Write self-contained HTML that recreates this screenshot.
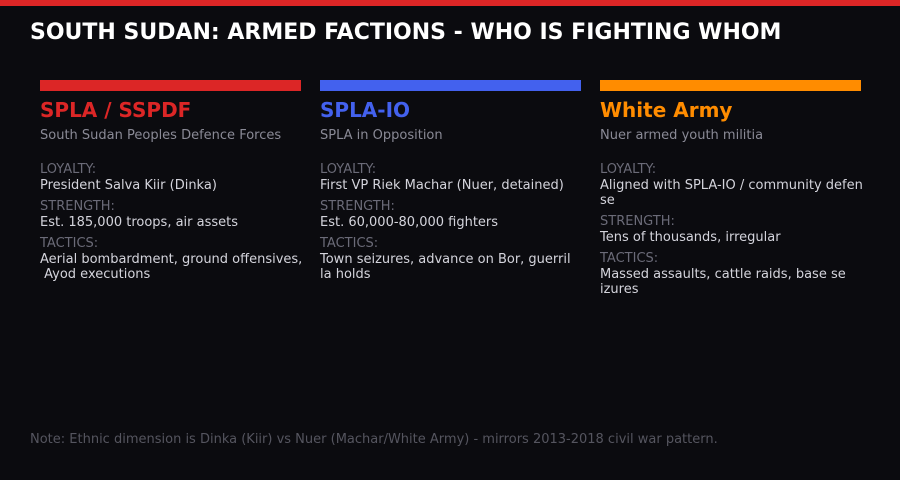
<!DOCTYPE html>
<html><head><style>html,body{margin:0;background:#0b0b0f;overflow:hidden;width:900px;height:480px}svg{display:block}</style></head><body>
<svg width="900" height="480" xmlns="http://www.w3.org/2000/svg" font-family="DejaVu Sans, sans-serif">
<rect width="900" height="480" fill="#0b0b0f"/>
<rect width="900" height="6" fill="#dc2626"/>
<text x="30" y="39" font-size="22" font-weight="bold" fill="#fff">SOUTH SUDAN: ARMED FACTIONS - WHO IS FIGHTING WHOM</text>

<rect x="40" y="80" width="261" height="11" fill="#dc2626"/>
<text x="40" y="117" font-size="20" font-weight="bold" fill="#dc2626">SPLA / SSPDF</text>
<text x="40" y="139" font-size="13" fill="#8a8a96">South Sudan Peoples Defence Forces</text>
<g font-size="13">
<text x="40" y="173" fill="#6b6b78">LOYALTY:</text>
<text x="40" y="189" fill="#d4d4dc">President Salva Kiir (Dinka)</text>
<text x="40" y="210" fill="#6b6b78">STRENGTH:</text>
<text x="40" y="226" fill="#d4d4dc">Est. 185,000 troops, air assets</text>
<text x="40" y="247" fill="#6b6b78">TACTICS:</text>
<text x="40" y="263" fill="#d4d4dc">Aerial bombardment, ground offensives,</text>
<text x="40" y="278" fill="#d4d4dc" xml:space="preserve"> Ayod executions</text>
</g>

<rect x="320" y="80" width="261" height="11" fill="#4361ee"/>
<text x="320" y="117" font-size="20" font-weight="bold" fill="#4361ee">SPLA-IO</text>
<text x="320" y="139" font-size="13" fill="#8a8a96">SPLA in Opposition</text>
<g font-size="13">
<text x="320" y="173" fill="#6b6b78">LOYALTY:</text>
<text x="320" y="189" fill="#d4d4dc">First VP Riek Machar (Nuer, detained)</text>
<text x="320" y="210" fill="#6b6b78">STRENGTH:</text>
<text x="320" y="226" fill="#d4d4dc">Est. 60,000-80,000 fighters</text>
<text x="320" y="247" fill="#6b6b78">TACTICS:</text>
<text x="320" y="263" fill="#d4d4dc">Town seizures, advance on Bor, guerril</text>
<text x="320" y="278" fill="#d4d4dc">la holds</text>
</g>

<rect x="600" y="80" width="261" height="11" fill="#ff8c00"/>
<text x="600" y="117" font-size="20" font-weight="bold" fill="#ff8c00">White Army</text>
<text x="600" y="139" font-size="13" fill="#8a8a96">Nuer armed youth militia</text>
<g font-size="13">
<text x="600" y="173" fill="#6b6b78">LOYALTY:</text>
<text x="600" y="189" fill="#d4d4dc">Aligned with SPLA-IO / community defen</text>
<text x="600" y="204" fill="#d4d4dc">se</text>
<text x="600" y="225" fill="#6b6b78">STRENGTH:</text>
<text x="600" y="241" fill="#d4d4dc">Tens of thousands, irregular</text>
<text x="600" y="262" fill="#6b6b78">TACTICS:</text>
<text x="600" y="278" fill="#d4d4dc">Massed assaults, cattle raids, base se</text>
<text x="600" y="293" fill="#d4d4dc">izures</text>
</g>

<text x="30" y="443" font-size="13" fill="#55555f">Note: Ethnic dimension is Dinka (Kiir) vs Nuer (Machar/White Army) - mirrors 2013-2018 civil war pattern.</text>
</svg>
</body></html>
